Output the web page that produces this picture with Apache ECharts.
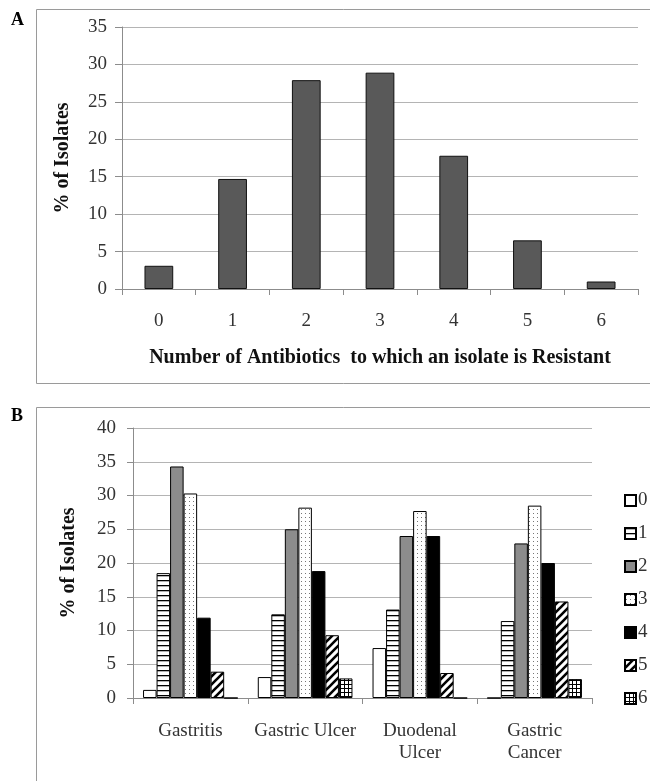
<!DOCTYPE html>
<html>
<head>
<meta charset="utf-8">
<script src="https://cdn.jsdelivr.net/npm/echarts@6/dist/echarts.min.js"></script>
<style>
html,body{margin:0;padding:0;background:#fff;}
#chart{width:650px;height:781px;}
</style>
</head>
<body>
<div id="chart"></div>
<script>
// Panel A data
var countCategories = ['0', '1', '2', '3', '4', '5', '6'];
var countValues = [3.1, 14.7, 27.9, 28.9, 17.8, 6.5, 1.0];

// Panel B data
var diseaseCategories = ['Gastritis', 'Gastric Ulcer', 'Duodenal\nUlcer', 'Gastric\nCancer'];
var resistanceSeriesNames = ['0', '1', '2', '3', '4', '5', '6'];
var res0 = [1.2, 3.1, 7.4, 0];
var res1 = [18.5, 12.4, 13.1, 11.4];
var res2 = [34.3, 25.0, 24.0, 22.9];
var res3 = [30.3, 28.2, 27.7, 28.5];
var res4 = [11.9, 18.8, 24.0, 20.0];
var res5 = [3.9, 9.3, 3.7, 14.3];
var res6 = [0, 2.9, 0, 2.8];
var resValues = [res0, res1, res2, res3, res4, res5, res6];

var yTicksA = {min: 0, max: 35, interval: 5};
var yTicksB = {min: 0, max: 40, interval: 5};

function makePattern(w, h, draw) {
  var c = document.createElement('canvas');
  c.width = w; c.height = h;
  var ctx = c.getContext('2d');
  ctx.fillStyle = '#ffffff';
  ctx.fillRect(0, 0, w, h);
  draw(ctx, w, h);
  return {image: c, repeat: 'repeat'};
}

var fills = [
  '#ffffff',
  makePattern(5, 5, function (ctx, w) { ctx.fillStyle = '#000'; ctx.fillRect(0, 0, w, 1.3); }),
  '#8c8c8c',
  makePattern(4, 4, function (ctx) { ctx.fillStyle = '#777'; ctx.fillRect(1, 1, 1, 1); }),
  '#000000',
  makePattern(8, 8, function (ctx) {
    ctx.strokeStyle = '#000'; ctx.lineWidth = 2.6;
    ctx.beginPath();
    ctx.moveTo(-2, 10); ctx.lineTo(10, -2);
    ctx.moveTo(-2, 2); ctx.lineTo(2, -2);
    ctx.moveTo(6, 10); ctx.lineTo(10, 6);
    ctx.stroke();
  }),
  makePattern(4, 4, function (ctx) { ctx.fillStyle = '#000'; ctx.fillRect(0, 0, 4, 1); ctx.fillRect(0, 0, 1, 4); })
];

var serif = 'Liberation Serif';
var gridColor = '#b4b4b4';
var axisColor = '#8c8c8c';

var chart = echarts.init(document.getElementById('chart'), null, {renderer: 'canvas'});

var seriesB = resistanceSeriesNames.map(function (name, i) {
  return {
    name: name,
    type: 'bar',
    xAxisIndex: 1,
    yAxisIndex: 1,
    data: resValues[i],
    barGap: '0%',
    barCategoryGap: '17.5%',
    itemStyle: {color: fills[i], borderColor: '#000', borderWidth: 1},
    emphasis: {disabled: true},
    animation: false
  };
});

var option = {
  animation: false,
  graphic: [
    {type: 'rect', shape: {x: 36.5, y: 9.5, width: 700, height: 374}, style: {fill: 'none', stroke: '#9a9a9a', lineWidth: 1}},
    {type: 'rect', shape: {x: 36.5, y: 407.5, width: 700, height: 500}, style: {fill: 'none', stroke: '#9a9a9a', lineWidth: 1}},
    {type: 'text', left: 11, top: 11, style: {text: 'A', font: 'bold 18px "Liberation Serif"', fill: '#000'}},
    {type: 'text', left: 11, top: 407, style: {text: 'B', font: 'bold 18px "Liberation Serif"', fill: '#000'}}
  ],
  legend: {
    orient: 'vertical',
    left: 619,
    top: 486,
    itemWidth: 11,
    itemHeight: 11,
    itemGap: 14,
    icon: 'rect',
    data: resistanceSeriesNames,
    textStyle: {fontFamily: serif, fontSize: 19, color: '#333', padding: [0, 0, 0, -3]},
    selectedMode: false
  },
  grid: [
    {left: 122, top: 27, width: 516, height: 262, containLabel: false},
    {left: 133, top: 428, width: 459, height: 270, containLabel: false}
  ],
  xAxis: [
    {
      type: 'category', gridIndex: 0, data: countCategories,
      name: 'Number of Antibiotics  to which an isolate is Resistant',
      nameLocation: 'middle', nameGap: 59,
      nameTextStyle: {fontFamily: serif, fontSize: 20, fontWeight: 'bold', color: '#111'},
      axisLine: {lineStyle: {color: axisColor}},
      axisTick: {show: true, length: 6, lineStyle: {color: axisColor}},
      axisLabel: {fontFamily: serif, fontSize: 19, color: '#333', margin: 23}
    },
    {
      type: 'category', gridIndex: 1, data: diseaseCategories,
      axisLine: {lineStyle: {color: axisColor}},
      axisTick: {show: true, length: 6, lineStyle: {color: axisColor}},
      axisLabel: {fontFamily: serif, fontSize: 19, color: '#333', margin: 22, lineHeight: 22, interval: 0}
    }
  ],
  yAxis: [
    {
      type: 'value', gridIndex: 0, min: yTicksA.min, max: yTicksA.max, interval: yTicksA.interval,
      name: '% of Isolates', nameLocation: 'middle', nameGap: 49,
      nameTextStyle: {fontFamily: serif, fontSize: 20, fontWeight: 'bold', color: '#111'},
      axisLine: {show: true, lineStyle: {color: axisColor}},
      axisTick: {show: true, length: 7, lineStyle: {color: axisColor}},
      splitLine: {lineStyle: {color: gridColor, width: 1}},
      axisLabel: {fontFamily: serif, fontSize: 19, color: '#333', margin: 15}
    },
    {
      type: 'value', gridIndex: 1, min: yTicksB.min, max: yTicksB.max, interval: yTicksB.interval,
      name: '% of Isolates', nameLocation: 'middle', nameGap: 54,
      nameTextStyle: {fontFamily: serif, fontSize: 20, fontWeight: 'bold', color: '#111'},
      axisLine: {show: true, lineStyle: {color: axisColor}},
      axisTick: {show: true, length: 6, lineStyle: {color: axisColor}},
      splitLine: {lineStyle: {color: gridColor, width: 1}},
      axisLabel: {fontFamily: serif, fontSize: 19, color: '#333', margin: 17}
    }
  ],
  series: [
    {
      name: 'A', type: 'bar', xAxisIndex: 0, yAxisIndex: 0, data: countValues,
      barWidth: '39%',
      itemStyle: {color: '#595959', borderColor: '#111', borderWidth: 1},
      emphasis: {disabled: true}
    }
  ].concat(seriesB)
};

chart.setOption(option);
</script>
</body>
</html>
